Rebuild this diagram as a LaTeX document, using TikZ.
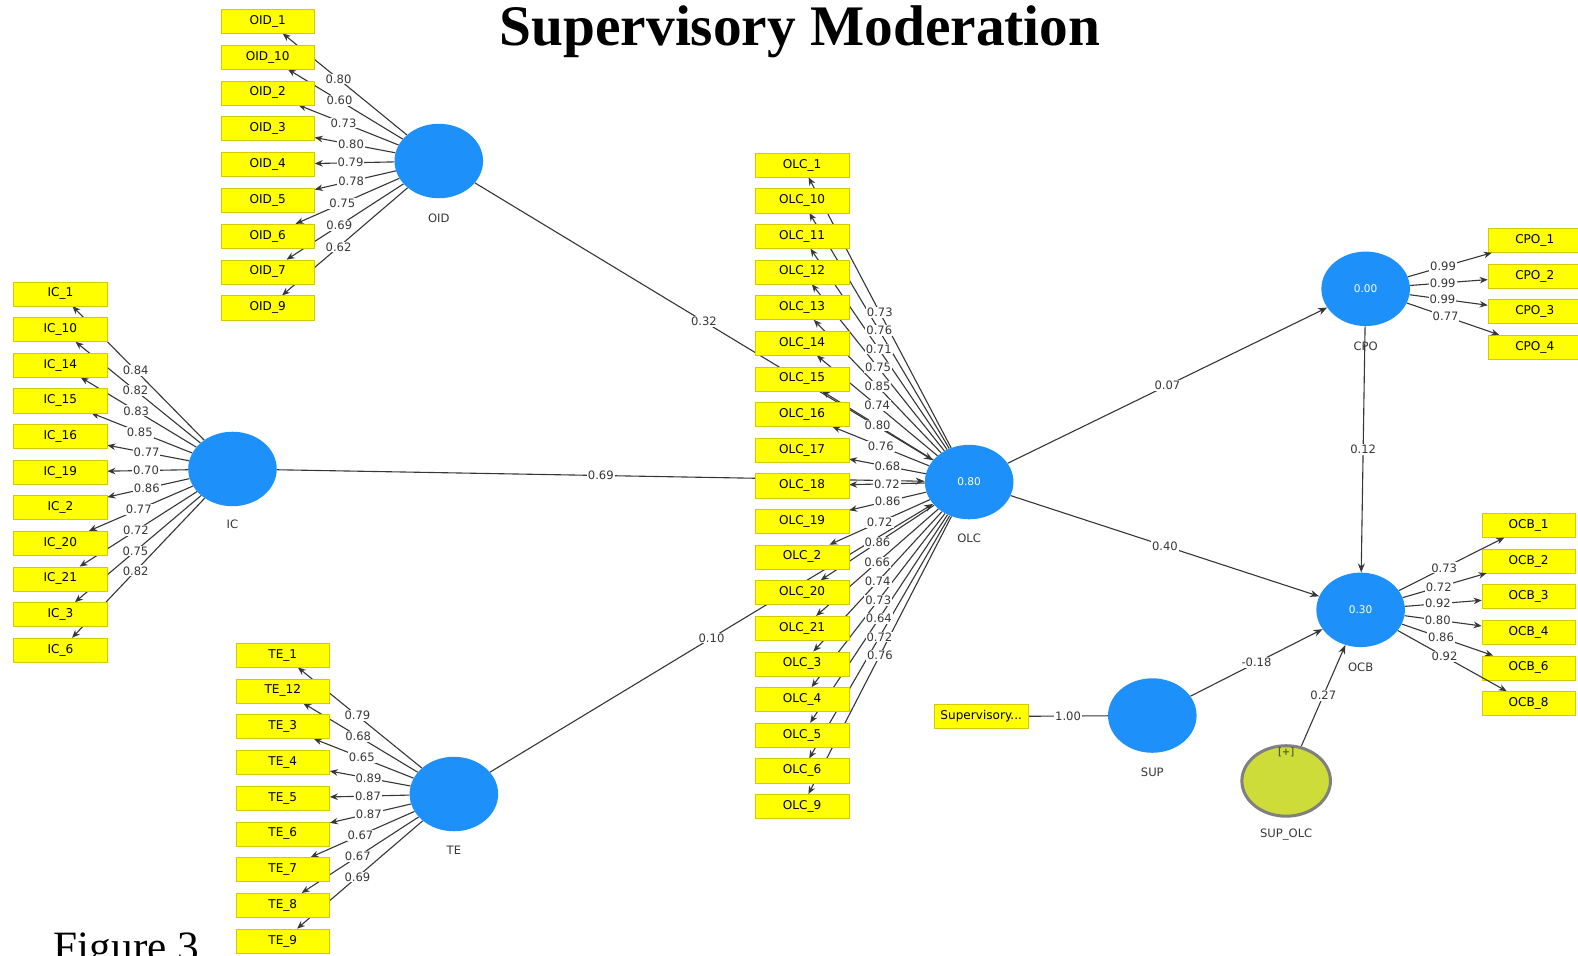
\documentclass[tikz,border=0pt]{standalone}
\usepackage{fontspec}
\setmainfont{Liberation Serif}
\newfontfamily\plsfont{DejaVu Sans}
\usetikzlibrary{shapes.geometric,arrows.meta,backgrounds}

\definecolor{plsblue}{RGB}{30,144,250}
\definecolor{plsyellow}{RGB}{255,255,0}
\definecolor{plsedge}{RGB}{215,200,0}
\definecolor{plsolive}{RGB}{205,220,57}
\definecolor{plsgray}{RGB}{128,128,128}
\definecolor{plsline}{RGB}{55,55,55}

\tikzset{
  item/.style={draw=plsedge, fill=plsyellow, minimum width=93pt, minimum height=24pt,
    inner sep=0pt, font=\plsfont\fontsize{12}{12}\selectfont},
  latent/.style={ellipse, fill=plsblue, minimum width=88pt, minimum height=74pt,
    inner sep=0pt, text=white, font=\plsfont\fontsize{10.5}{11}\selectfont},
  lname/.style={font=\plsfont\fontsize{11.5}{12}\selectfont, text=plsline},
  load/.style={draw=plsline, line width=1.1pt, -{Stealth[length=8pt,width=6.5pt]}},
  struct/.style={draw=plsline, line width=1.1pt, -{Stealth[length=9pt,width=7pt]}},
  coef/.style={fill=white, inner sep=1pt, text=plsline, font=\plsfont\fontsize{11.5}{12}\selectfont},
}

\begin{document}
\begin{tikzpicture}[x=1pt,y=-1pt]
  \useasboundingbox (0,0) rectangle (1568,949);

  % title and caption
  \node[font=\bfseries\fontsize{57}{57}\selectfont, anchor=base] (title) at (795,45) {Supervisory Moderation};
  \node[font=\fontsize{43}{43}\selectfont, anchor=base west] (figno) at (50,955) {Figure 3};

  % latent variables
  \node[latent] (OID) at (436,160) {};
  \node[latent] (IC) at (231,466) {};
  \node[latent] (TE) at (451,789) {};
  \node[latent] (OLC) at (963,479) {0.80};
  \node[latent] (CPO) at (1357,287) {0.00};
  \node[latent] (OCB) at (1352,606) {0.30};
  \node[latent] (SUP) at (1145,711) {};
  \node[latent, fill=plsolive, draw=plsgray, line width=3pt, minimum width=88pt, minimum height=70pt] (SUPOLC) at (1278,776) {};
  \node[lname, font=\plsfont\fontsize{10}{10}\selectfont] (plus) at (1278,748) {[+]};

  \node[lname] (OIDname) at (436,217) {OID};
  \node[lname] (ICname) at (231,521) {IC};
  \node[lname] (TEname) at (451,845) {TE};
  \node[lname] (OLCname) at (963,535) {OLC};
  \node[lname] (CPOname) at (1357,344) {CPO};
  \node[lname] (OCBname) at (1352,663) {OCB};
  \node[lname] (SUPname) at (1145,767) {SUP};
  \node[lname] (SUPOLCname) at (1278,829) {SUP\_OLC};

  % indicator blocks
  \foreach \n/\l [count=\i from 0] in {1/0.80,10/0.60,2/0.73,3/0.80,4/0.79,5/0.78,6/0.75,7/0.69,9/0.62}{
    \node[item] (oid\n) at (266,21+35.6*\i) {OID\_\n};
    \begin{scope}[on background layer]
      \draw[load] (OID) -- (oid\n);
    \end{scope}
    \path (OID) -- (oid\n) node[coef,pos=0.55] {\l};
  }
  \foreach \n/\l [count=\i from 0] in {1/0.84,10/0.82,14/0.83,15/0.85,16/0.77,19/0.70,2/0.86,20/0.77,21/0.72,3/0.75,6/0.82}{
    \node[item] (ic\n) at (60,292+35.4*\i) {IC\_\n};
    \begin{scope}[on background layer]
      \draw[load] (IC) -- (ic\n);
    \end{scope}
    \path (IC) -- (ic\n) node[coef,pos=0.52] {\l};
  }
  \foreach \n/\l [count=\i from 0] in {1/0.79,12/0.68,3/0.65,4/0.89,5/0.87,6/0.87,7/0.67,8/0.67,9/0.69}{
    \node[item] (te\n) at (281,651+35.5*\i) {TE\_\n};
    \begin{scope}[on background layer]
      \draw[load] (TE) -- (te\n);
    \end{scope}
    \path (TE) -- (te\n) node[coef,pos=0.52] {\l};
  }
  \foreach \n/\l [count=\i from 0] in {1/0.73,10/0.76,11/0.71,12/0.75,13/0.85,14/0.74,15/0.80,16/0.76,17/0.68,18/0.72,
      19/0.86,2/0.72,20/0.86,21/0.66,3/0.74,4/0.73,5/0.64,6/0.72,9/0.76}{
    \node[item] (olc\n) at (797,164+35.4*\i) {OLC\_\n};
    \begin{scope}[on background layer]
      \draw[load] (OLC) -- (olc\n);
    \end{scope}
    \path (OLC) -- (olc\n) node[coef,pos=0.5] {\l};
  }
  \foreach \n/\l [count=\i from 0] in {1/0.99,2/0.99,3/0.99,4/0.77}{
    \node[item] (cpo\n) at (1525,239+35.3*\i) {CPO\_\n};
    \draw[load] (CPO) -- (cpo\n) node[coef,pos=0.42] {\l};
  }
  \foreach \n/\l [count=\i from 0] in {1/0.73,2/0.72,3/0.92,4/0.80,6/0.86,8/0.92}{
    \node[item] (ocb\n) at (1519,522+35.4*\i) {OCB\_\n};
    \draw[load] (OCB) -- (ocb\n) node[coef,pos=0.43] {\l};
  }
  \node[item] (supitem) at (975,712) {Supervisory...};

  % structural paths
  \begin{scope}[on background layer]
    \draw[struct] (OID) -- (OLC);
    \draw[struct] (IC) -- (OLC);
    \draw[struct] (TE) -- (OLC);
    \draw[struct] (OLC) -- (CPO);
    \draw[struct] (OLC) -- (OCB);
    \draw[struct] (CPO) -- (OCB);
    \draw[struct] (SUP) -- (OCB);
    \draw[struct] (SUPOLC) -- (OCB);
    \draw[draw=plsline, line width=1.1pt] (supitem) -- (SUP);
  \end{scope}
  \path (OID) -- (OLC) node[coef,midway] {0.32};
  \path (IC) -- (OLC) node[coef,midway] {0.69};
  \path (TE) -- (OLC) node[coef,midway] {0.10};
  \path (OLC) -- (CPO) node[coef,midway] {0.07};
  \path (OLC) -- (OCB) node[coef,midway] {0.40};
  \path (CPO) -- (OCB) node[coef,midway] {0.12};
  \path (SUP) -- (OCB) node[coef,midway] {-0.18};
  \path (SUPOLC) -- (OCB) node[coef,midway] {0.27};
  \path (supitem) -- (SUP) node[coef,midway] {1.00};
\end{tikzpicture}
\end{document}
